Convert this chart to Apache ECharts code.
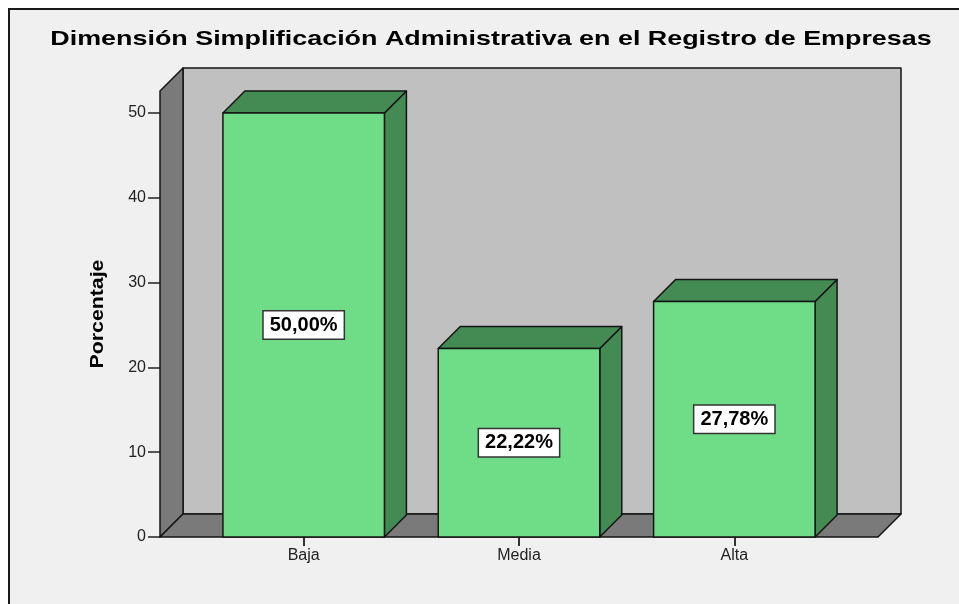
<!DOCTYPE html>
<html>
<head>
<meta charset="utf-8">
<script src="https://cdn.jsdelivr.net/npm/echarts@6/dist/echarts.min.js"></script>
<style>
html,body{margin:0;padding:0;background:#ffffff;}
#main{width:959px;height:604px;}
</style>
</head>
<body>
<div id="main"></div>
<script>
// ---- data ----
const titleText = 'Dimensión Simplificación Administrativa en el Registro de Empresas';
const categories = ['Baja', 'Media', 'Alta'];
const values = [50.00, 22.22, 27.78];
const yAxisName = 'Porcentaje';
const yMin = 0, yMax = 50, yInterval = 10;
const wallTop = 52.6;

// ---- style ----
const FRONT = '#6fdd87', SIDE = '#438a53', WALL = '#c0c0c0', WALLSIDE = '#7a7a7a', EDGE = '#141414';
const WALL_D = 23, BAR_D = 22, PAD = 36;
const FONT = '"Liberation Sans", Arial, sans-serif';

const chart = echarts.init(document.getElementById('main'), null, {renderer: 'canvas'});

function fmt(v){ return v.toFixed(2).replace('.', ',') + '%'; }

const option = {
  animation: false,
  backgroundColor: '#ffffff',
  graphic: [
    {type: 'rect', z: -10, shape: {x: 9, y: 9, width: 980, height: 620},
     style: {fill: '#f0f0f0', stroke: '#1a1a1a', lineWidth: 2}},
    {type: 'text', z: 10, x: 491, y: 39, scaleX: 1.28,
     style: {text: titleText, fill: '#000', font: 'bold 21px ' + FONT,
             textAlign: 'center', textVerticalAlign: 'middle', verticalAlign: 'middle'}}
  ],
  grid: {left: 196, right: 117, top: 113, bottom: 67},
  xAxis: {
    type: 'category', data: categories,
    axisLine: {show: false},
    axisTick: {show: true, alignWithLabel: true, length: 9, lineStyle: {color: '#333', width: 2}},
    axisLabel: {color: '#222', fontSize: 16, margin: 11, fontFamily: FONT},
    splitLine: {show: false}
  },
  yAxis: {
    type: 'value', min: yMin, max: yMax, interval: yInterval, offset: PAD,
    axisLine: {show: false},
    axisTick: {show: true, length: 12, lineStyle: {color: '#222', width: 1.5}},
    axisLabel: {color: '#222', fontSize: 16, margin: 14, fontFamily: FONT},
    splitLine: {show: false}
  },
  series: [
    {
      type: 'custom', z: 1, clip: false, silent: true,
      data: [[0, 0]],
      renderItem: function(params, api){
        const cs = params.coordSys;
        const y0 = api.coord([0, 0])[1];
        const yT = api.coord([0, wallTop])[1];
        const xl = cs.x - PAD, xr = cs.x + cs.width + PAD, D = WALL_D;
        const st = (f) => ({fill: f, stroke: EDGE, lineWidth: 1.5, lineJoin: 'round'});
        return {type: 'group', children: [
          {type: 'polygon', shape: {points: [[xl + D, y0 - D], [xr + D, y0 - D], [xr + D, yT - D], [xl + D, yT - D]]}, style: st(WALL)},
          {type: 'polygon', shape: {points: [[xl, y0], [xl + D, y0 - D], [xl + D, yT - D], [xl, yT]]}, style: st(WALLSIDE)},
          {type: 'polygon', shape: {points: [[xl, y0], [xr, y0], [xr + D, y0 - D], [xl + D, y0 - D]]}, style: st(WALLSIDE)},
          {type: 'text', x: xl - 62, y: (y0 + yT) / 2, rotation: Math.PI / 2, scaleX: 1.12,
           style: {text: yAxisName, fill: '#000', font: 'bold 19px ' + FONT, align: 'center', verticalAlign: 'middle'}}
        ]};
      }
    },
    {
      type: 'custom', z: 2, clip: false,
      data: values.map((v, i) => [i, v]),
      encode: {x: 0, y: 1},
      renderItem: function(params, api){
        const top = api.coord([api.value(0), api.value(1)]);
        const base = api.coord([api.value(0), 0]);
        const w = api.size([1, 0])[0] * 0.75;
        const xL = top[0] - w / 2, xR = top[0] + w / 2, yt = top[1], yb = base[1], D = BAR_D;
        const st = (f) => ({fill: f, stroke: EDGE, lineWidth: 1.5, lineJoin: 'round'});
        return {type: 'group', children: [
          {type: 'polygon', shape: {points: [[xR, yt], [xR + D, yt - D], [xR + D, yb - D], [xR, yb]]}, style: st(SIDE)},
          {type: 'polygon', shape: {points: [[xL, yt], [xL + D, yt - D], [xR + D, yt - D], [xR, yt]]}, style: st(SIDE)},
          {type: 'rect', shape: {x: xL, y: yt, width: w, height: yb - yt}, style: st(FRONT)},
          {type: 'text', x: top[0], y: (yt + yb) / 2, z2: 10,
           style: {text: fmt(api.value(1)), fill: '#000', font: 'bold 20px ' + FONT,
                   align: 'center', verticalAlign: 'middle',
                   backgroundColor: '#ffffff', borderColor: '#333', borderWidth: 1.5, padding: [4, 6, 3, 6]}}
        ]};
      }
    }
  ]
};
chart.setOption(option);
</script>
</body>
</html>
